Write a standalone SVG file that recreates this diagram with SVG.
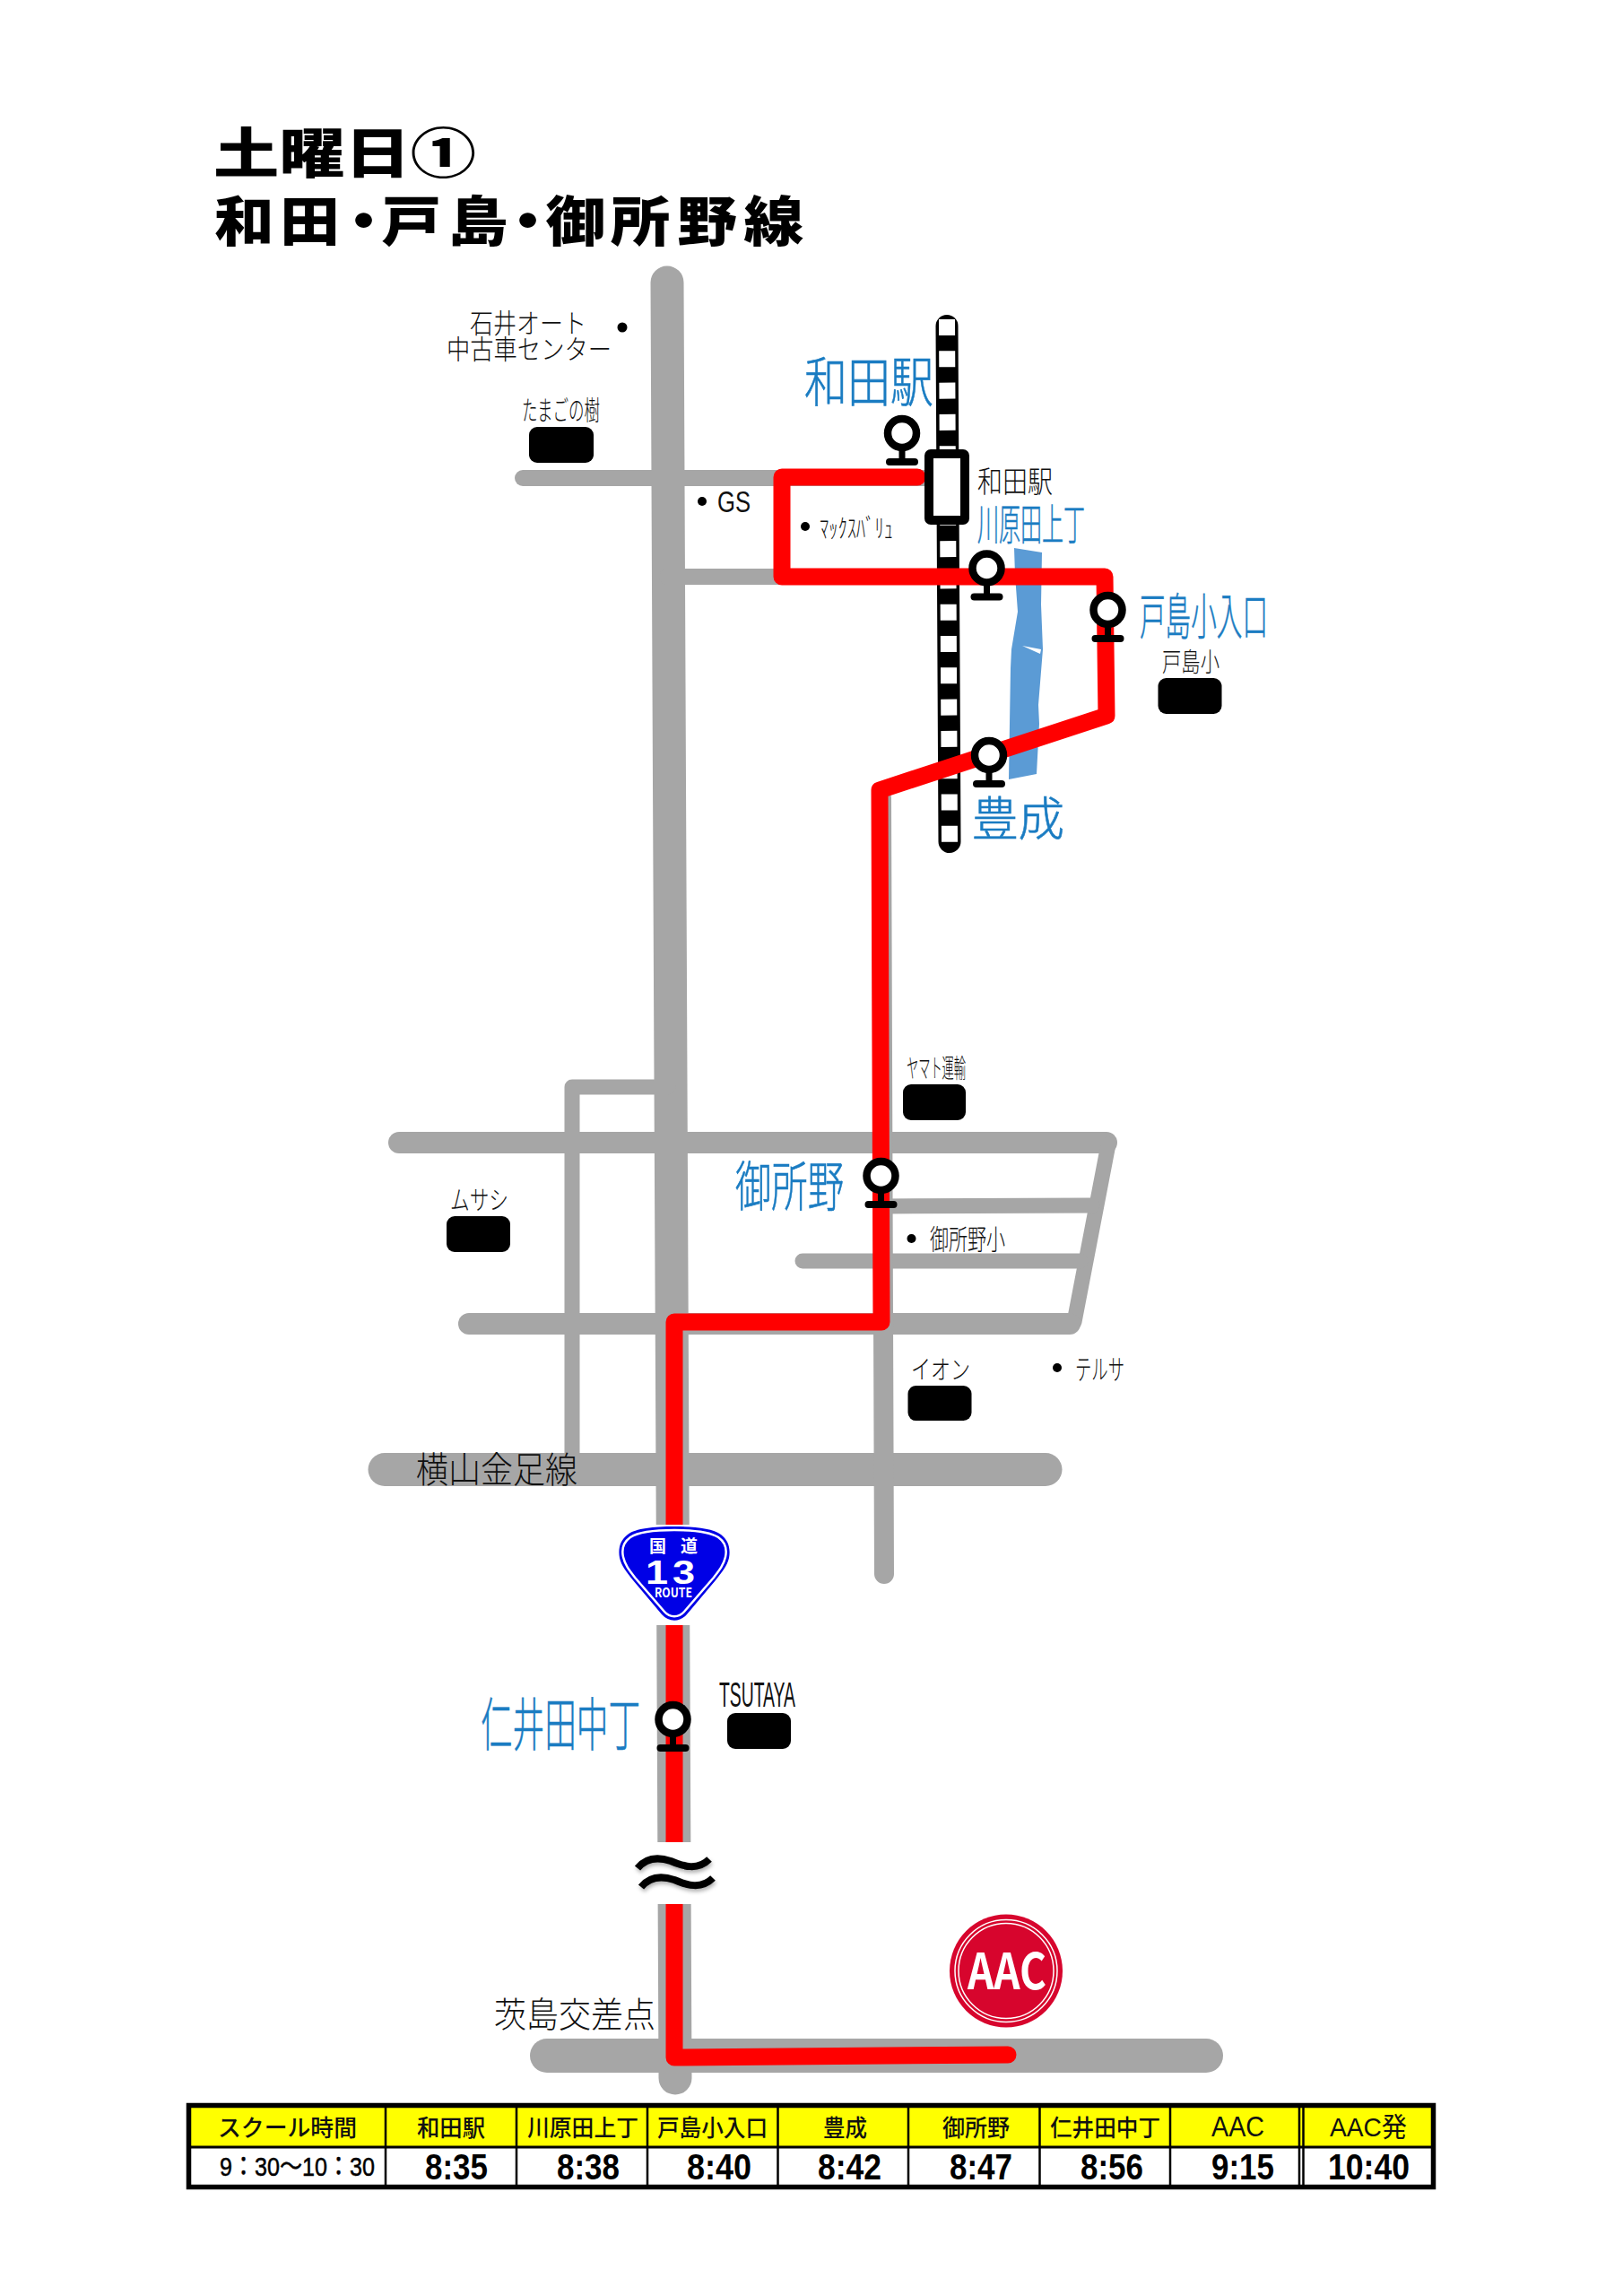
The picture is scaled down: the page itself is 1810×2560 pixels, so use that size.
<svg xmlns="http://www.w3.org/2000/svg" xmlns:xlink="http://www.w3.org/1999/xlink" width="1810" height="2560" viewBox="0 0 1810 2560">
<style>
text{font-family:"Noto Sans CJK JP","Liberation Sans",sans-serif}
.title{font-size:60px;font-weight:900;fill:#000}
.lb{font-weight:300;fill:#111}
.blue{font-weight:300;fill:#1a7cc2;stroke:#1a7cc2;stroke-width:.6}
.lat{font-family:"Liberation Sans",sans-serif;font-weight:400;fill:#111}
.road{fill:none;stroke:#a6a6a6;stroke-linecap:round;stroke-linejoin:round}
.shop{fill:#000}
.dot{fill:#000}
.th{font-size:26px;font-weight:500;fill:#111}
.td{font-family:"Liberation Sans",sans-serif;font-size:40px;font-weight:700;fill:#000}
.grid{stroke:#000;stroke-width:2.5;fill:none}
</style>
<defs>
<g id="stop">
<line x1="0" y1="17" x2="0" y2="30" stroke="#000" stroke-width="7"/>
<line x1="-14" y1="32" x2="14" y2="32" stroke="#000" stroke-width="8" stroke-linecap="round"/>
<circle r="16" fill="#fff" stroke="#000" stroke-width="8.5"/>
</g>
<filter id="soft" x="-20%" y="-50%" width="140%" height="220%"><feDropShadow dx="1" dy="3" stdDeviation="2" flood-opacity=".3"/></filter>
</defs>
<rect width="1810" height="2560" fill="#fff"/>

<g id="title">
<text class="title" x="238" y="193" textLength="293" lengthAdjust="spacingAndGlyphs">土曜日①</text>
<text class="title" transform="translate(239,269) scale(1.11,1)" x="0 66 120 168 235 285 333 398 465 532" y="0">和田・戸島・御所野線</text>
</g>

<g id="roads">
<path class="road" stroke-width="37" d="M744,315 L753,2317"/>
<path class="road" stroke-width="18" d="M583,533 H1035"/>
<path class="road" stroke-width="18" d="M744,643 H875"/>
<path class="road" stroke-width="17" d="M638,1625 V1212 H745"/>
<path class="road" stroke-width="24" d="M445,1274 H1234"/>
<path class="road" stroke-width="17" d="M1236,1276 L1198,1474"/>
<path class="road" stroke-width="17" d="M985,1345 L1218,1344"/>
<path class="road" stroke-width="17" d="M895,1406 H1205"/>
<path class="road" stroke-width="24" d="M523,1476 H1193"/>
<path class="road" stroke-width="37" d="M429,1638.5 H1166"/>
<path class="road" stroke-width="22" d="M983,890 L986,1755"/>
<path class="road" stroke-width="38" d="M610,2292 H1345"/>
</g>

<g id="river">
<path fill="#5b9bd5" d="M1131,611 L1162,616 L1161,674 L1163,724 L1158,786 L1159,807 L1156,863 L1125,869 L1127,745 L1128,724 L1135,682 L1132,641Z"/>
<path fill="#fff" d="M1140,720 L1161,724 L1160,729Z"/>
</g>

<g id="railway">
<path fill="none" stroke="#000" stroke-width="25" stroke-linecap="round" d="M1056,363.5 L1059,938.5"/>
<path fill="none" stroke="#fff" stroke-width="18" stroke-dasharray="18 17.3" d="M1056,356 L1059,940"/>
</g>

<g id="connectors">
<path id="route" fill="none" stroke="#ff0000" stroke-width="19" stroke-linecap="round" stroke-linejoin="round" d="M1023,532 H872 V643 H1232 L1234,798 L981,881 L983,1474 H752 V2294 L1124,2291"/>
</g>

<g id="station-wada">
<rect x="1036" y="506" width="40" height="74" rx="2" fill="#fff" stroke="#000" stroke-width="10" stroke-linejoin="round"/>
<text class="lb" font-size="33" x="1090" y="549" textLength="84" lengthAdjust="spacingAndGlyphs">和田駅</text>
</g>

<g id="break-mark">
<rect x="733" y="2054" width="39" height="69" fill="#fff"/>
<g filter="url(#soft)">
<path fill="none" stroke="#000" stroke-width="8" d="M711,2083 C720,2072 733,2070 748,2075 C762,2081 778,2086 791,2073"/>
<path fill="none" stroke="#000" stroke-width="8" d="M715,2104 C724,2093 737,2091 752,2096 C766,2102 782,2107 795,2094"/>
</g>
</g>

<g id="route-sign">
<rect x="687" y="1700" width="128" height="112" fill="#fff"/>
<path fill="#0000e6" d="M752,1702 C775,1702 795,1704 804,1711 C812,1717 815,1726 813,1737 C811,1746 805,1753 798,1762 L766,1800 C758,1809 746,1809 738,1800 L706,1762 C699,1753 693,1746 691,1737 C689,1726 692,1717 700,1711 C709,1704 729,1702 752,1702Z"/>
<path fill="none" stroke="#fff" stroke-width="2.5" d="M752,1706 C774,1706 792,1708 801,1714 C808,1719 811,1727 809,1736 C807,1745 802,1751 795,1760 L763,1797 C757,1804 747,1804 741,1797 L709,1760 C702,1751 697,1745 695,1736 C693,1727 696,1719 703,1714 C712,1708 730,1706 752,1706Z"/>
<text x="724" y="1731" font-size="19" font-weight="700" fill="#fff">国</text>
<text x="759" y="1731" font-size="19" font-weight="700" fill="#fff">道</text>
<text transform="translate(720,1766) scale(1.25,1)" x="0 24" y="0" style="font-family:'Liberation Sans',sans-serif" font-size="36" font-weight="700" fill="#fff">13</text>
<text x="730" y="1781" font-family="Liberation Sans" font-size="15" font-weight="700" fill="#fff" textLength="42" lengthAdjust="spacingAndGlyphs">ROUTE</text>
</g>

<g id="stop-wada"><use xlink:href="#stop" href="#stop" x="1006" y="483"/>
<text class="blue" font-size="60" x="897" y="448" textLength="144" lengthAdjust="spacingAndGlyphs">和田駅</text></g>
<g id="stop-kawahara"><use xlink:href="#stop" href="#stop" x="1100.5" y="633.5"/>
<text class="blue" font-size="48" x="1090" y="602" textLength="120" lengthAdjust="spacingAndGlyphs">川原田上丁</text></g>
<g id="stop-toshima"><use xlink:href="#stop" href="#stop" x="1235.5" y="680"/>
<text class="blue" font-size="55" x="1271" y="707" textLength="143" lengthAdjust="spacingAndGlyphs">戸島小入口</text></g>
<g id="stop-toyonari"><use xlink:href="#stop" href="#stop" x="1103" y="842"/>
<text class="blue" font-size="52" x="1084" y="932" textLength="103" lengthAdjust="spacingAndGlyphs">豊成</text></g>
<g id="stop-goshono"><use xlink:href="#stop" href="#stop" x="982.5" y="1311"/>
<text class="blue" font-size="60" x="820" y="1345" textLength="121" lengthAdjust="spacingAndGlyphs">御所野</text></g>
<g id="stop-niida"><use xlink:href="#stop" href="#stop" x="750.5" y="1917"/>
<text class="blue" font-size="64" x="536" y="1946" textLength="178" lengthAdjust="spacingAndGlyphs">仁井田中丁</text></g>

<g id="lm-ishii"><text class="lb" font-size="30" x="524" y="371" textLength="130" lengthAdjust="spacingAndGlyphs">石井オート</text>
<text class="lb" font-size="30" x="498" y="400" textLength="184" lengthAdjust="spacingAndGlyphs">中古車センター</text>
<circle class="dot" cx="694" cy="365" r="5.5"/></g>
<g id="lm-tamago"><text class="lb" font-size="30" x="582" y="468" textLength="87" lengthAdjust="spacingAndGlyphs">たまごの樹</text>
<rect class="shop" x="590" y="476" width="72" height="40" rx="9"/></g>
<g id="lm-gs"><circle class="dot" cx="783" cy="559" r="5"/>
<text class="lat" font-size="33" x="800" y="571" textLength="37" lengthAdjust="spacingAndGlyphs">GS</text></g>
<g id="lm-max"><circle class="dot" cx="898" cy="587" r="5"/>
<text class="lb" font-size="29" x="914" y="600" textLength="82" lengthAdjust="spacingAndGlyphs">ﾏｯｸｽﾊﾞﾘｭ</text></g>
<g id="lm-toshima"><text class="lb" font-size="29" x="1296" y="749" textLength="64" lengthAdjust="spacingAndGlyphs">戸島小</text>
<rect class="shop" x="1291.500" y="756" width="71" height="40" rx="9"/></g>
<g id="lm-yamato"><text class="lb" font-size="29" x="1011" y="1202" textLength="66" lengthAdjust="spacingAndGlyphs">ヤマト運輸</text>
<rect class="shop" x="1007" y="1209" width="70" height="40" rx="9"/></g>
<g id="lm-musashi"><text class="lb" font-size="29" x="502" y="1349" textLength="65" lengthAdjust="spacingAndGlyphs">ムサシ</text>
<rect class="shop" x="498" y="1356" width="71" height="40" rx="9"/></g>
<g id="lm-goshonosho"><circle class="dot" cx="1016.5" cy="1381" r="5"/>
<text class="lb" font-size="31" x="1037" y="1393" textLength="84" lengthAdjust="spacingAndGlyphs">御所野小</text></g>
<g id="lm-aeon"><text class="lb" font-size="29" x="1016" y="1538" textLength="66" lengthAdjust="spacingAndGlyphs">イオン</text>
<rect class="shop" x="1012.5" y="1545" width="71" height="39" rx="9"/></g>
<g id="lm-terusa"><circle class="dot" cx="1179" cy="1525" r="5"/>
<text class="lb" font-size="31" x="1199" y="1538" textLength="55" lengthAdjust="spacingAndGlyphs">テルサ</text></g>
<g id="lm-tsutaya"><text class="lat" font-size="38" x="802" y="1903" textLength="85" lengthAdjust="spacingAndGlyphs">TSUTAYA</text>
<rect class="shop" x="811" y="1910" width="71" height="40" rx="9"/></g>
<g id="lm-yokoyama"><text class="lb" font-size="40" x="464" y="1653" textLength="180" lengthAdjust="spacingAndGlyphs">横山金足線</text></g>
<g id="lm-barajima"><text class="lb" font-size="39" x="551" y="2260" textLength="180" lengthAdjust="spacingAndGlyphs">茨島交差点</text></g>

<g id="aac">
<circle cx="1122" cy="2197.5" r="63" fill="#d7052d"/>
<circle cx="1122" cy="2197.5" r="57" fill="none" stroke="#fff" stroke-width="1.5"/>
<circle cx="1122" cy="2197.5" r="53" fill="none" stroke="#fff" stroke-width="1.5"/>
<text x="1079" y="2218" font-family="Liberation Sans" font-size="55" font-weight="700" fill="#fff" textLength="88" lengthAdjust="spacingAndGlyphs">AAC</text>
</g>

<g id="timetable">
<rect x="210.5" y="2347.5" width="1388" height="91" fill="#fff"/>
<rect x="210.5" y="2347.5" width="1388" height="46" fill="#ffff00"/>
<path class="grid" d="M430,2350 V2437 M576,2350 V2437 M722,2350 V2437 M867.500,2350 V2437 M1013,2350 V2437 M1159.500,2350 V2437 M1305,2350 V2437 M1449,2350 V2437 M1453.500,2350 V2437"/>
<path stroke="#000" stroke-width="3" d="M212,2394 H1596"/>
<rect x="210.500" y="2347.500" width="1388" height="91" fill="none" stroke="#000" stroke-width="5.500"/>
<text class="th" x="243" y="2382" textLength="155" lengthAdjust="spacingAndGlyphs">スクール時間</text>
<text class="th" x="465" y="2382" textLength="76" lengthAdjust="spacingAndGlyphs">和田駅</text>
<text class="th" x="588" y="2382" textLength="124" lengthAdjust="spacingAndGlyphs">川原田上丁</text>
<text class="th" x="733" y="2382" textLength="123" lengthAdjust="spacingAndGlyphs">戸島小入口</text>
<text class="th" x="918" y="2382" textLength="49" lengthAdjust="spacingAndGlyphs">豊成</text>
<text class="th" x="1051" y="2382" textLength="75" lengthAdjust="spacingAndGlyphs">御所野</text>
<text class="th" x="1171" y="2382" textLength="123" lengthAdjust="spacingAndGlyphs">仁井田中丁</text>
<text class="th" x="1351" y="2382" textLength="59" lengthAdjust="spacingAndGlyphs" style="font-family:'Liberation Sans',sans-serif;font-weight:400;font-size:31px">AAC</text>
<text class="th" x="1483" y="2382" textLength="86" lengthAdjust="spacingAndGlyphs" style="font-family:'Liberation Sans','Noto Sans CJK JP',sans-serif;font-weight:400;font-size:30px">AAC発</text>
<text class="td" x="245" y="2426" textLength="173" lengthAdjust="spacingAndGlyphs" style="font-size:29px;font-weight:400;stroke:#000;stroke-width:.5;font-family:'Liberation Sans','Noto Sans CJK JP',sans-serif">9：30～10：30</text>
<text class="td" x="474" y="2430" textLength="70" lengthAdjust="spacingAndGlyphs">8:35</text>
<text class="td" x="621" y="2430" textLength="70" lengthAdjust="spacingAndGlyphs">8:38</text>
<text class="td" x="766" y="2430" textLength="72" lengthAdjust="spacingAndGlyphs">8:40</text>
<text class="td" x="912" y="2430" textLength="71" lengthAdjust="spacingAndGlyphs">8:42</text>
<text class="td" x="1059" y="2430" textLength="70" lengthAdjust="spacingAndGlyphs">8:47</text>
<text class="td" x="1205" y="2430" textLength="70" lengthAdjust="spacingAndGlyphs">8:56</text>
<text class="td" x="1351" y="2430" textLength="70" lengthAdjust="spacingAndGlyphs">9:15</text>
<text class="td" x="1481" y="2430" textLength="91" lengthAdjust="spacingAndGlyphs">10:40</text>
</g>
</svg>
